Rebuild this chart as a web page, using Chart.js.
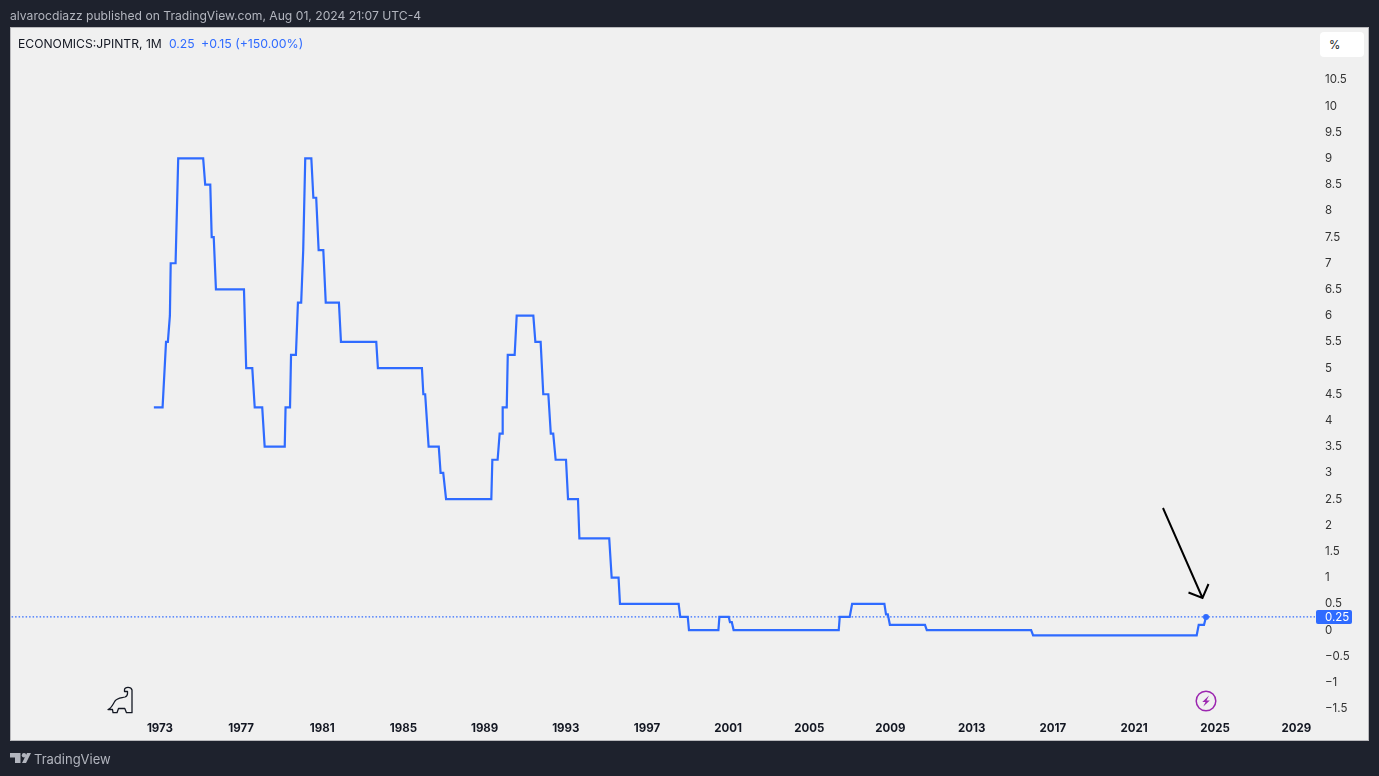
<!DOCTYPE html>
<html>
<head>
<meta charset="utf-8">
<title>ECONOMICS:JPINTR</title>
<script src="https://cdn.jsdelivr.net/npm/chart.js@4/dist/chart.umd.min.js"></script>
<style>
  html, body { margin: 0; padding: 0; background: #1e222d; overflow: hidden; }
  #wrap { position: relative; width: 1379px; height: 776px; font-family: Inter, "Open Sans", sans-serif; }
  canvas { position: absolute; left: 0; top: 0; }
  svg { position: absolute; left: 0; top: 0; pointer-events: none; }
  .txt { position: absolute; white-space: pre; line-height: 16px; }
  #publicado { left: 10px; top: 8px; font-size: 12.15px; color: #b2b5be; }
  #simbolo { left: 18px; top: 36px; font-size: 12.15px; color: #131722; }
  #valor { left: 169px; top: 36px; font-size: 12.15px; color: #2f6bff; }
  #cambio { left: 201px; top: 36px; font-size: 12.35px; color: #2f6bff; }
  #marca { left: 34px; top: 751px; font-size: 13px; color: #b2b5be; }
  #caja { position: absolute; left: 1320px; top: 32px; width: 44px; height: 25px; background: #fff; border-radius: 4px; }
  #pct { left: 1329px; top: 37px; font-size: 11.5px; color: #131722; }
</style>
</head>
<body>
<div id="wrap">
  <canvas id="grafico" width="1379" height="776"></canvas>
  <div class="txt" id="publicado">alvarocdiazz published on TradingView.com, Aug 01, 2024 21:07 UTC-4</div>
  <div class="txt" id="simbolo">ECONOMICS:JPINTR, 1M</div>
  <div class="txt" id="valor">0.25</div>
  <div class="txt" id="cambio">+0.15 (+150.00%)</div>
  <div id="caja"></div>
  <div class="txt" id="pct">%</div>
  <div class="txt" id="marca">TradingView</div>
  <svg width="1379" height="776">
    <!-- flecha dibujada a mano -->
    <path d="M1163 508 L1202.5 598 M1188.5 592.5 L1202.5 598 L1208.5 584" fill="none" stroke="#000" stroke-width="2"/>
    <!-- dino -->
    <path d="M108 709.5 C111.5 708.5 113 704 115 701 C117.5 697.5 122 698 125 697 C126.8 696.3 127.5 695 127.5 693.5 L127.5 691.5 L124.5 691.5 L124.5 689.5 C125 686.8 131 686.5 132 690 L132 712.7 L126.5 712.7 L124.8 708.5 L118.5 708.5 L117 712.7 L113 712.7 L112.5 709.5 Z" fill="none" stroke="#131722" stroke-width="1.3" stroke-linejoin="round"/>
    <!-- rayo -->
    <circle cx="1206" cy="701" r="9.8" fill="none" stroke="#9c27b0" stroke-width="1.5"/>
    <path d="M1209 695.5 L1202.3 702 L1205.5 702 L1203.3 706.5 L1209.8 700.5 L1206.5 700.5 Z" fill="#9c27b0"/>
    <!-- logo -->
    <path d="M10 753 H20.5 V763 H15 V757.5 H10 Z M27 753 H31 L26 763 H22 Z" fill="#b2b5be"/>
    <circle cx="24" cy="755.3" r="2.2" fill="#b2b5be"/>
  </svg>
</div>
<script>
// fecha en años decimales y tasa en %
const fechas = [1972.70,1973.13,1973.30,1973.39,1973.49,1973.53,1973.77,1973.90,1975.13,1975.23,1975.48,1975.55,1975.65,1975.76,
  1977.14,1977.25,1977.55,1977.67,1978.04,1978.16,1979.15,1979.19,1979.41,1979.46,1979.70,1979.80,1979.96,1980.06,1980.16,
  1980.46,1980.56,1980.70,1980.82,1981.05,1981.17,1981.82,1981.92,1983.66,1983.74,1985.91,1985.98,1986.07,1986.24,1986.74,
  1986.83,1986.96,1987.10,1989.33,1989.38,1989.64,1989.74,1989.86,1989.89,1990.09,1990.14,1990.48,1990.58,1991.40,1991.50,
  1991.76,1991.89,1992.14,1992.26,1992.38,1992.50,1993.01,1993.11,1993.60,1993.67,1995.14,1995.26,1995.60,1995.67,1998.56,
  1998.64,1999.01,1999.07,2000.52,2000.57,2001.03,2001.09,2001.18,2001.27,2006.45,2006.50,2006.99,2007.11,2008.70,2008.78,
  2008.87,2008.97,2010.70,2010.79,2015.93,2016.03,2024.09,2024.19,2024.45,2024.55];
const tasas = [4.25,4.25,5.5,5.5,6,7,7,9,9,8.5,8.5,7.5,7.5,6.5,
  6.5,5,5,4.25,4.25,3.5,3.5,4.25,4.25,5.25,5.25,6.25,6.25,7.25,9,
  9,8.25,8.25,7.25,7.25,6.25,6.25,5.5,5.5,5,5,4.5,4.5,3.5,3.5,
  3,3,2.5,2.5,3.25,3.25,3.75,3.75,4.25,4.25,5.25,5.25,6,6,5.5,
  5.5,4.5,4.5,3.75,3.75,3.25,3.25,2.5,2.5,1.75,1.75,1,1,0.5,0.5,
  0.25,0.25,0,0,0.25,0.25,0.15,0.15,0,0,0.25,0.25,0.5,0.5,0.3,
  0.3,0.1,0.1,0,0,-0.1,-0.1,0.1,0.1,0.25];
const ticksAnios = [1973,1977,1981,1985,1989,1993,1997,2001,2005,2009,2013,2017,2021,2025,2029];
const ticksPrecio = [10.5,10,9.5,9,8.5,8,7.5,7,6.5,6,5.5,5,4.5,4,3.5,3,2.5,2,1.5,1,0.5,0,-0.5,-1,-1.5];
const ultimo = 0.25;
const azul = '#2f6bff';

// panel gris claro y etiqueta del ultimo precio
const panel = {
  id: 'panel',
  beforeDraw(chart) {
    const c = chart.ctx;
    c.save();
    c.fillStyle = '#f0f0f0';
    c.fillRect(11, 28, 1357, 712);
    c.strokeStyle = '#b9b9bc';
    c.lineWidth = 1;
    c.strokeRect(10.5, 27.5, 1358, 713);
    c.restore();
  },
  afterDraw(chart) {
    const c = chart.ctx, y = chart.scales.y.getPixelForValue(ultimo);
    c.save();
    c.fillStyle = azul;
    c.beginPath();
    c.roundRect(1316, y - 7, 36, 14, 2);
    c.fill();
    c.fillStyle = '#fff';
    c.font = '11.5px Inter';
    c.textBaseline = 'middle';
    c.fillText(String(ultimo), 1325, y + 0.5);
    c.restore();
  }
};

new Chart(document.getElementById('grafico'), {
  type: 'line',
  data: {
    datasets: [
      {
        data: fechas.map((f, i) => ({ x: f, y: tasas[i] })),
        borderColor: azul, borderWidth: 2.2, tension: 0,
        pointRadius: ctx => ctx.dataIndex === fechas.length - 1 ? 3 : 0,
        pointBackgroundColor: azul, pointBorderWidth: 0
      },
      {
        data: [{ x: 1965, y: ultimo }, { x: 2031, y: ultimo }],
        borderColor: azul, borderWidth: 1.2, borderDash: [1.5, 2], pointRadius: 0
      }
    ]
  },
  plugins: [panel],
  options: {
    responsive: false,
    animation: false,
    layout: { padding: { left: 11, top: 28, right: 11, bottom: 36 } },
    plugins: { legend: { display: false }, tooltip: { enabled: false } },
    scales: {
      x: {
        type: 'linear', min: 1965.66, max: 2029.92,
        grid: { display: false, drawTicks: false }, border: { display: false },
        afterBuildTicks: s => { s.ticks = ticksAnios.map(v => ({ value: v })); },
        afterFit: s => { s.height = 24; },
        ticks: {
          autoSkip: false, maxRotation: 0, padding: 6, color: '#131722',
          font: { family: 'Inter', size: 11.5, weight: 'bold' },
          callback: v => String(v)
        }
      },
      y: {
        type: 'linear', position: 'right', min: -1.64, max: 11.49,
        grid: { display: false, drawTicks: false }, border: { display: false },
        afterBuildTicks: s => { s.ticks = ticksPrecio.map(v => ({ value: v })); },
        afterFit: s => { s.width = 53; },
        ticks: {
          autoSkip: false, padding: 10, color: '#333',
          font: { family: 'Inter', size: 11.5 },
          callback: v => String(v).replace('-', '\u2212')
        }
      }
    }
  }
});
</script>
</body>
</html>
